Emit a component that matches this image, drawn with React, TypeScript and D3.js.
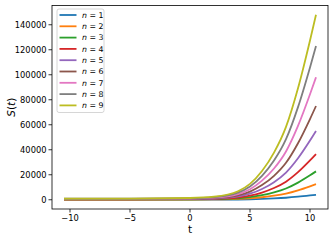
import React from 'react';
import * as d3 from 'd3';

// sample points along t
const tValues = [-10.5, -5, 0, 2, 4, 5, 6, 7, 8, 9, 10, 10.5];

const s1 = [50, 50, 62, 90, 208, 366, 643, 1038, 1590, 2420, 3447, 4000];
const s2 = [150, 150, 187, 274, 644, 1138, 2003, 3238, 4967, 7560, 10771, 12500];
const s3 = [250, 250, 317, 475, 1148, 2046, 3618, 5863, 9006, 13720, 19557, 22700];
const s4 = [350, 350, 458, 712, 1796, 3242, 5773, 9388, 14449, 22040, 31439, 36500];
const s5 = [450, 450, 614, 996, 2632, 4814, 8633, 14088, 21725, 33180, 47363, 55000];
const s6 = [550, 550, 773, 1295, 3528, 6506, 11718, 19163, 29586, 45220, 64577, 75000];
const s7 = [650, 650, 942, 1624, 4544, 8438, 15253, 24988, 38617, 59060, 84371, 98000];
const s8 = [800, 800, 1167, 2022, 5688, 10576, 19130, 31350, 48458, 74120, 105892, 123000];
const s9 = [950, 950, 1391, 2421, 6832, 12714, 23008, 37713, 58300, 89180, 127413, 148000];

const seriesValues = [s1, s2, s3, s4, s5, s6, s7, s8, s9];
const seriesLabels = ['1', '2', '3', '4', '5', '6', '7', '8', '9'];
const colors = ['#1f77b4', '#ff7f0e', '#2ca02c', '#d62728', '#9467bd', '#8c564b', '#e377c2', '#7f7f7f', '#bcbd22'];

const xTicks = [-10, -5, 0, 5, 10];
const yTicks = [0, 20000, 40000, 60000, 80000, 100000, 120000, 140000];

const W = 333;
const H = 241;
const plot = { left: 52, right: 328, top: 5.5, bottom: 209 };
const font = 'DejaVu Sans, sans-serif';

export default function App() {
    const x = d3.scaleLinear().domain([-11.5, 11.5]).range([plot.left, plot.right]);
    const y = d3.scaleLinear().domain([-7400, 155400]).range([plot.bottom, plot.top]);

    const line = d3
        .line<number>()
        .x((_, i) => x(tValues[i]))
        .y((d) => y(d))
        .curve(d3.curveMonotoneX);

    const fmt = (v: number) => (v < 0 ? '\u2212' + Math.abs(v) : String(v));

    return (
        <svg width={W} height={H} style={{ position: 'absolute', left: 0, top: 0 }} fontFamily={font}>
            <rect width={W} height={H} fill="#fff" />
            <defs>
                <clipPath id="plotclip">
                    <rect x={plot.left} y={plot.top} width={plot.right - plot.left} height={plot.bottom - plot.top} />
                </clipPath>
            </defs>

            <g clipPath="url(#plotclip)">
                {seriesValues.map((vals, i) => (
                    <path key={i} d={line(vals) || ''} fill="none" stroke={colors[i]} strokeWidth={1.8} />
                ))}
            </g>

            {/* axes frame */}
            <rect
                x={plot.left}
                y={plot.top}
                width={plot.right - plot.left}
                height={plot.bottom - plot.top}
                fill="none"
                stroke="#000"
                strokeWidth={0.8}
            />

            {xTicks.map((t) => (
                <g key={t} transform={`translate(${x(t)},${plot.bottom})`}>
                    <line y2={3.5} stroke="#000" strokeWidth={0.8} />
                    <text y={12} textAnchor="middle" fontSize={8.3} fill="#000">
                        {fmt(t)}
                    </text>
                </g>
            ))}

            {yTicks.map((v) => (
                <g key={v} transform={`translate(${plot.left},${y(v)})`}>
                    <line x2={-3.5} stroke="#000" strokeWidth={0.8} />
                    <text x={-5.5} dy="0.33em" textAnchor="end" fontSize={8.3} fill="#000">
                        {fmt(v)}
                    </text>
                </g>
            ))}

            <text x={x(0)} y={233} textAnchor="middle" fontSize={10.5} fill="#000">
                t
            </text>
            <text transform={`translate(14.5,${(plot.top + plot.bottom) / 2}) rotate(-90)`} textAnchor="middle" fontSize={10.5} fill="#000">
                <tspan fontStyle="italic">S</tspan>(<tspan fontStyle="italic">t</tspan>)
            </text>

            {/* legend */}
            <g>
                <rect x={57} y={9} width={47} height={103.5} rx={2} fill="#fff" fillOpacity={0.8} stroke="#cccccc" strokeWidth={0.8} />
                {seriesLabels.map((lab, i) => {
                    const ly = 15 + i * 11.3;
                    return (
                        <g key={lab}>
                            <line x1={59.5} x2={76.5} y1={ly} y2={ly} stroke={colors[i]} strokeWidth={1.8} />
                            <text x={82} y={ly} dy="0.35em" fontSize={7.8} fill="#000">
                                <tspan fontStyle="italic">n</tspan> = {lab}
                            </text>
                        </g>
                    );
                })}
            </g>
        </svg>
    );
}
